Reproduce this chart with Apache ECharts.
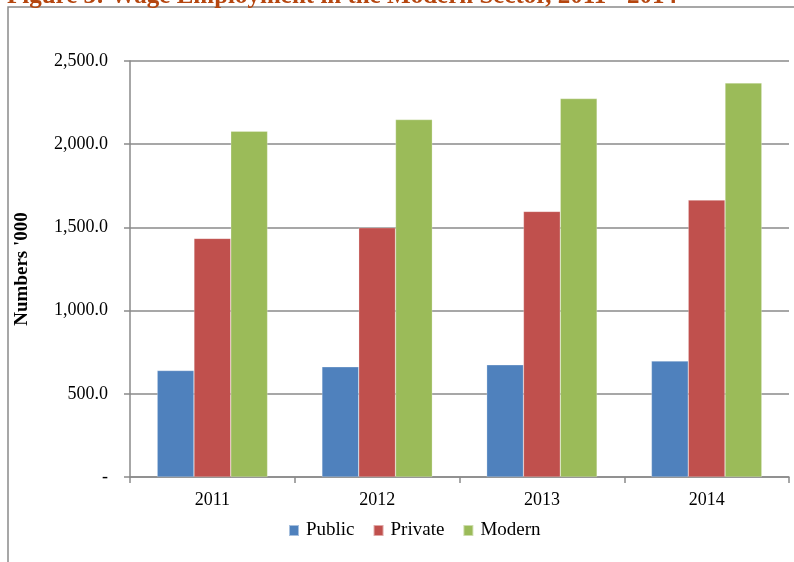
<!DOCTYPE html>
<html>
<head>
<meta charset="utf-8">
<script src="https://cdn.jsdelivr.net/npm/echarts@6/dist/echarts.min.js"></script>
<style>html,body{margin:0;padding:0;background:#fff}#c{width:794px;height:562px}</style>
</head>
<body>
<div id="c"></div>
<script>
const categories = ['2011', '2012', '2013', '2014'];
const publicVals = [640, 662, 674, 697];
const privateVals = [1434, 1498, 1596, 1664];
const modernVals = [2078, 2148, 2274, 2368];
const seriesNames = ['Public', 'Private', 'Modern'];
const titleText = 'Figure 3: Wage Employment in the Modern Sector, 2011 - 2014';
const yAxisName = "Numbers '000";

const colors = ['#4F81BD', '#C0504D', '#9BBB59'];
const font = '"Liberation Serif", "DejaVu Serif", serif';

function fmt(v) {
  if (v === 0) return '-';
  return v.toLocaleString('en-US', {minimumFractionDigits: 1, maximumFractionDigits: 1});
}

const chart = echarts.init(document.getElementById('c'), null, {renderer: 'canvas'});
const mk = (name, data, i) => ({
  name, type: 'bar', data,
  barGap: '0%', barCategoryGap: '33%',
  itemStyle: {color: colors[i], borderColor: 'rgba(255,255,255,0.5)', borderWidth: 0.5},
  animation: false
});
chart.setOption({
  animation: false,
  backgroundColor: '#fff',
  color: colors,
  title: {
    text: titleText, left: 2, top: -21,
    textStyle: {fontFamily: font, fontSize: 25, fontWeight: 'bold', color: '#B5460F'}
  },
  graphic: [{
    type: 'rect', shape: {x: 8, y: 7, width: 900, height: 700},
    style: {fill: 'none', stroke: '#8a8a8a', lineWidth: 1.5}, silent: true, z: -1
  }],
  grid: {left: 130, right: 5, top: 61, bottom: 85, containLabel: false},
  legend: {
    data: seriesNames, top: 516, left: 283, itemWidth: 10, itemHeight: 11, itemGap: 18,
    icon: 'rect',
    textStyle: {fontFamily: font, fontSize: 19, color: '#000', padding: [0, 0, 0, 2]}
  },
  xAxis: {
    type: 'category', data: categories,
    axisLine: {lineStyle: {color: '#8a8a8a', width: 1.5}},
    axisTick: {show: true, length: 6, lineStyle: {color: '#8a8a8a', width: 1.5}},
    axisLabel: {fontFamily: font, fontSize: 18, color: '#000', margin: 14}
  },
  yAxis: {
    type: 'value', min: 0, max: 2500, interval: 500,
    name: yAxisName, nameLocation: 'middle', nameGap: 98, nameRotate: 90,
    nameTextStyle: {fontFamily: font, fontSize: 19, fontWeight: 'bold', color: '#000'},
    axisLine: {show: true, lineStyle: {color: '#8a8a8a', width: 1.5}},
    axisTick: {show: true, length: 6, lineStyle: {color: '#8a8a8a', width: 1.5}},
    splitLine: {show: true, lineStyle: {color: '#8a8a8a', width: 1.5}},
    axisLabel: {fontFamily: font, fontSize: 18, color: '#000', margin: 22, formatter: fmt}
  },
  series: [mk(seriesNames[0], publicVals, 0), mk(seriesNames[1], privateVals, 1), mk(seriesNames[2], modernVals, 2)]
});
</script>
</body>
</html>
